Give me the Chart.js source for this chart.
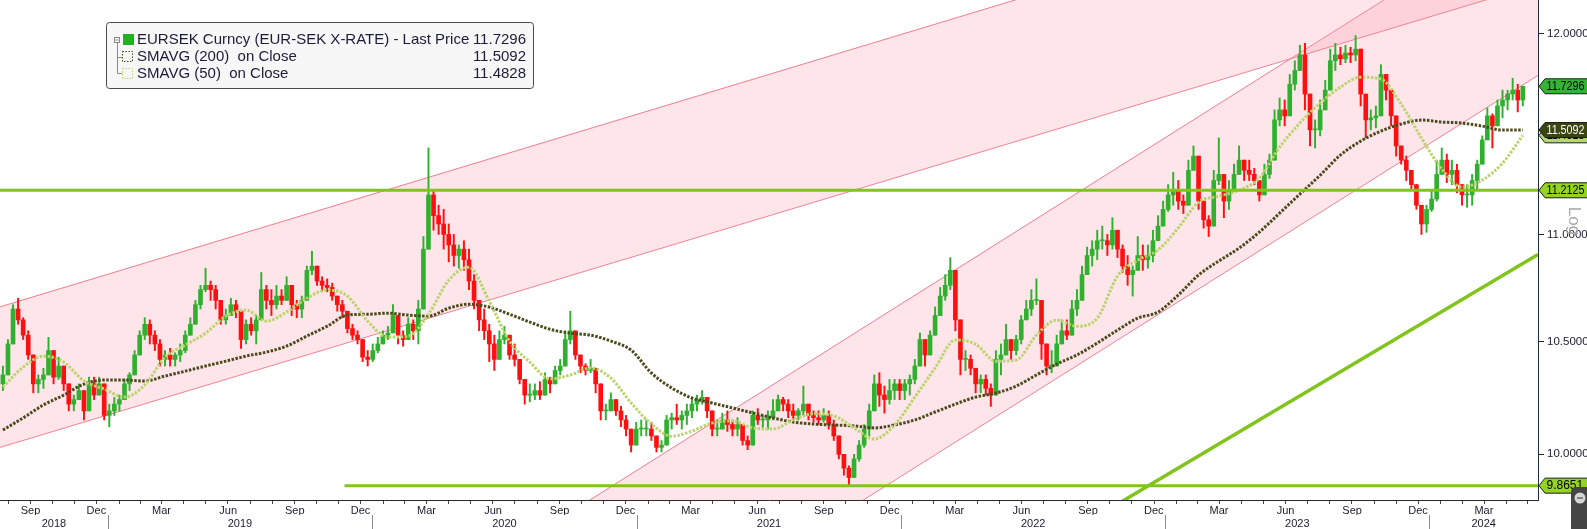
<!DOCTYPE html>
<html>
<head>
<meta charset="utf-8">
<script src="https://cdn.jsdelivr.net/npm/chart.js@4.4.1/dist/chart.umd.min.js"></script>
<style>
  html, body { margin: 0; padding: 0; background: #fff; }
  #wrap { width: 1587px; height: 529px; }
</style>
</head>
<body>
<div id="wrap"><canvas id="chart" width="1587" height="529"></canvas></div>
<script>
// weekly candles (mid-week dates)
const firstWeek = '2018-08-09';
const firstOpen = 10.31;
const weekHigh = [
  10.39,10.51,10.67,10.70,10.61,10.55,10.39,10.35,10.38,10.52,
  10.42,10.43,10.39,10.31,10.26,10.31,10.28,10.34,10.34,10.34,
  10.28,10.22,10.25,10.26,10.33,10.36,10.46,10.55,10.61,10.60,
  10.55,10.51,10.46,10.47,10.45,10.49,10.55,10.61,10.69,10.76,
  10.84,10.78,10.76,10.67,10.65,10.70,10.69,10.55,10.60,10.61,
  10.62,10.82,10.76,10.74,10.76,10.74,10.80,10.74,10.69,10.71,
  10.85,10.92,10.85,10.80,10.79,10.77,10.71,10.69,10.62,10.58,
  10.55,10.47,10.46,10.49,10.52,10.55,10.57,10.67,10.60,10.55,
  10.61,10.60,10.69,10.99,11.42,11.21,11.14,11.12,11.05,11.00,
  10.95,10.97,10.93,10.81,10.69,10.65,10.58,10.53,10.55,10.57,
  10.51,10.49,10.39,10.33,10.31,10.31,10.32,10.36,10.34,10.39,
  10.42,10.55,10.64,10.51,10.43,10.40,10.42,10.37,10.31,10.22,
  10.27,10.24,10.21,10.17,10.10,10.14,10.15,10.15,10.14,10.07,
  10.06,10.17,10.18,10.22,10.19,10.22,10.24,10.26,10.28,10.24,
  10.17,10.15,10.18,10.19,10.15,10.16,10.13,10.08,10.19,10.20,
  10.17,10.19,10.24,10.26,10.25,10.24,10.22,10.20,10.30,10.22,
  10.19,10.19,10.20,10.19,10.15,10.08,10.00,9.95,10.00,10.06,
  10.13,10.22,10.35,10.36,10.30,10.33,10.33,10.33,10.33,10.35,
  10.42,10.54,10.51,10.55,10.66,10.75,10.81,10.89,10.74,10.49,
  10.46,10.44,10.37,10.35,10.35,10.31,10.46,10.49,10.58,10.51,
  10.53,10.62,10.69,10.74,10.79,10.67,10.49,10.46,10.53,10.60,
  10.60,10.69,10.74,10.85,10.94,10.97,11.02,11.04,11.00,11.08,
  11.02,10.95,10.90,10.85,10.99,10.95,10.95,11.02,11.09,11.16,
  11.24,11.30,11.26,11.19,11.36,11.43,11.34,11.14,11.09,11.31,
  11.47,11.24,11.26,11.34,11.43,11.36,11.36,11.32,11.26,11.34,
  11.39,11.61,11.67,11.66,11.79,11.86,11.94,11.95,11.69,11.56,
  11.66,11.76,11.92,11.95,11.93,11.94,11.93,11.99,11.86,11.69,
  11.61,11.63,11.84,11.79,11.71,11.56,11.43,11.38,11.31,11.24,
  11.14,11.14,11.21,11.36,11.42,11.39,11.36,11.34,11.24,11.24,
  11.29,11.36,11.48,11.62,11.59,11.66,11.71,11.71,11.77,11.74,11.73
];
const weekLow = [
  10.28,10.35,10.49,10.58,10.51,10.42,10.27,10.27,10.29,10.35,
  10.31,10.33,10.28,10.19,10.19,10.24,10.15,10.22,10.24,10.26,
  10.15,10.12,10.17,10.19,10.24,10.28,10.35,10.44,10.51,10.49,
  10.46,10.39,10.39,10.39,10.39,10.41,10.45,10.53,10.58,10.65,
  10.73,10.69,10.65,10.58,10.58,10.62,10.61,10.47,10.49,10.53,
  10.49,10.60,10.65,10.62,10.65,10.67,10.69,10.62,10.61,10.61,
  10.69,10.81,10.76,10.73,10.73,10.69,10.64,10.61,10.54,10.51,
  10.49,10.41,10.39,10.41,10.45,10.49,10.51,10.55,10.49,10.48,
  10.52,10.51,10.49,10.68,11.00,11.02,11.00,10.93,10.87,10.85,
  10.84,10.83,10.74,10.65,10.55,10.51,10.41,10.37,10.44,10.49,
  10.42,10.39,10.31,10.22,10.23,10.24,10.24,10.27,10.27,10.33,
  10.35,10.39,10.49,10.42,10.36,10.35,10.36,10.27,10.15,10.15,
  10.19,10.17,10.12,10.08,10.01,10.06,10.08,10.08,10.06,10.01,
  10.01,10.06,10.11,10.13,10.11,10.13,10.16,10.19,10.22,10.16,
  10.08,10.08,10.11,10.10,10.08,10.08,10.04,10.02,10.04,10.13,
  10.11,10.11,10.15,10.19,10.19,10.16,10.15,10.15,10.17,10.15,
  10.14,10.13,10.14,10.11,10.06,9.98,9.91,9.8651,9.90,9.97,
  10.03,10.08,10.19,10.21,10.18,10.22,10.24,10.24,10.24,10.26,
  10.31,10.39,10.39,10.44,10.53,10.65,10.69,10.74,10.55,10.35,
  10.37,10.35,10.27,10.27,10.26,10.21,10.33,10.35,10.44,10.42,
  10.44,10.49,10.61,10.62,10.67,10.42,10.35,10.36,10.39,10.49,
  10.51,10.53,10.62,10.69,10.81,10.85,10.88,10.93,10.90,10.93,
  10.89,10.82,10.76,10.71,10.85,10.83,10.84,10.87,10.97,11.04,
  11.11,11.14,11.12,11.10,11.16,11.34,11.12,11.03,10.99,11.04,
  11.24,11.08,11.12,11.21,11.29,11.26,11.26,11.24,11.16,11.21,
  11.27,11.36,11.53,11.53,11.61,11.71,11.81,11.61,11.43,11.42,
  11.48,11.62,11.74,11.81,11.84,11.85,11.85,11.86,11.63,11.47,
  11.51,11.52,11.71,11.66,11.53,11.38,11.34,11.26,11.21,11.12,
  11.00,11.01,11.11,11.16,11.29,11.25,11.24,11.20,11.14,11.13,
  11.14,11.21,11.34,11.48,11.42,11.53,11.57,11.61,11.66,11.60,11.63
];
const weekClose = [
  10.35,10.49,10.65,10.60,10.53,10.44,10.31,10.33,10.35,10.46,
  10.34,10.39,10.31,10.22,10.24,10.28,10.19,10.31,10.26,10.31,
  10.17,10.19,10.22,10.24,10.31,10.35,10.44,10.53,10.58,10.53,
  10.49,10.42,10.44,10.42,10.44,10.46,10.53,10.58,10.67,10.74,
  10.76,10.74,10.69,10.60,10.62,10.67,10.64,10.51,10.58,10.55,
  10.60,10.74,10.69,10.67,10.71,10.69,10.76,10.67,10.65,10.69,
  10.83,10.85,10.78,10.76,10.75,10.71,10.67,10.64,10.56,10.53,
  10.51,10.43,10.42,10.46,10.49,10.53,10.54,10.62,10.53,10.51,
  10.58,10.55,10.65,10.93,11.19,11.09,11.05,11.00,10.95,10.90,
  10.93,10.88,10.78,10.69,10.60,10.55,10.49,10.42,10.51,10.53,
  10.44,10.42,10.33,10.26,10.26,10.28,10.26,10.33,10.31,10.37,
  10.39,10.51,10.55,10.44,10.39,10.37,10.38,10.31,10.19,10.19,
  10.24,10.19,10.15,10.11,10.04,10.11,10.11,10.11,10.08,10.03,
  10.04,10.15,10.16,10.15,10.17,10.19,10.22,10.24,10.25,10.19,
  10.11,10.11,10.15,10.13,10.11,10.13,10.06,10.04,10.17,10.15,
  10.15,10.16,10.19,10.24,10.22,10.19,10.17,10.19,10.22,10.17,
  10.16,10.15,10.17,10.13,10.08,10.00,9.94,9.90,9.98,10.04,
  10.11,10.19,10.31,10.26,10.24,10.28,10.31,10.28,10.31,10.33,
  10.39,10.51,10.44,10.53,10.62,10.71,10.76,10.83,10.60,10.42,
  10.42,10.38,10.31,10.33,10.29,10.26,10.42,10.44,10.51,10.46,
  10.51,10.60,10.65,10.69,10.69,10.49,10.39,10.39,10.49,10.55,
  10.53,10.65,10.69,10.81,10.90,10.93,10.97,10.97,10.95,11.02,
  10.93,10.85,10.81,10.83,10.90,10.88,10.90,10.97,11.04,11.12,
  11.19,11.21,11.16,11.14,11.31,11.38,11.16,11.07,11.04,11.26,
  11.29,11.16,11.21,11.29,11.36,11.31,11.29,11.26,11.19,11.29,
  11.36,11.56,11.61,11.58,11.74,11.81,11.89,11.69,11.51,11.51,
  11.61,11.71,11.86,11.89,11.87,11.90,11.89,11.92,11.69,11.56,
  11.57,11.58,11.79,11.71,11.58,11.43,11.36,11.31,11.24,11.14,
  11.05,11.12,11.17,11.29,11.36,11.29,11.31,11.24,11.19,11.19,
  11.26,11.34,11.46,11.58,11.53,11.63,11.66,11.69,11.71,11.66,11.7296
];

// moving averages, one reading every 4 weeks
const smaStep = 4;
const sma200 = [
  10.106,10.159,10.216,10.260,10.309,10.327,10.327,10.323,10.345,10.367,
  10.390,10.412,10.435,10.453,10.480,10.526,10.571,10.622,10.626,10.631,
  10.622,10.617,10.654,10.672,10.659,10.626,10.590,10.557,10.539,10.530,
  10.503,10.462,10.359,10.292,10.247,10.225,10.203,10.181,10.159,10.141,
  10.132,10.128,10.124,10.115,10.128,10.150,10.185,10.220,10.251,10.269,
  10.300,10.350,10.399,10.440,10.494,10.553,10.608,10.636,10.715,10.808,
  10.874,10.935,11.011,11.102,11.194,11.286,11.385,11.454,11.504,11.539,
  11.559,11.549,11.544,11.529,11.509,11.5092
];
const sma50 = [
  10.296,10.385,10.435,10.408,10.323,10.287,10.251,10.305,10.430,10.485,
  10.539,10.617,10.645,10.594,10.636,10.700,10.738,10.710,10.594,10.521,
  10.526,10.626,10.784,10.845,10.686,10.503,10.408,10.332,10.350,10.381,
  10.336,10.225,10.132,10.079,10.101,10.137,10.146,10.115,10.110,10.150,
  10.177,10.168,10.115,10.066,10.128,10.251,10.381,10.508,10.489,10.412,
  10.417,10.530,10.599,10.571,10.608,10.803,10.878,10.926,11.031,11.155,
  11.184,11.213,11.272,11.424,11.544,11.644,11.725,11.776,11.766,11.639,
  11.469,11.316,11.228,11.262,11.345,11.4828
];

// drawn studies
const channelUp1 = [['2018-08-05', 10.66], ['2024-05-30', 13.04]];
const channelLow1 = [['2018-08-05', 10.03], ['2024-05-30', 12.26]];
const channelUp2 = [['2020-06-25', 9.565], ['2024-05-30', 12.70]];
const channelLow2 = [['2020-06-25', 8.877], ['2024-05-30', 11.785]];
const trendLine = [['2022-10-02', 9.741], ['2024-05-30', 10.905]];
const supportLevel = 11.2125;
const floorLevel = 9.8651;
const floorFrom = '2019-11-24';

// axes
const axisFrom = '2018-08-05';
const axisTo = '2024-05-30';
const yMin = 9.8039, yMax = 12.1765;
const yTicks = [10, 10.5, 11, 12];
const monthNames = ['Jan','Feb','Mar','Apr','May','Jun','Jul','Aug','Sep','Oct','Nov','Dec'];
const labelledMonths = ['Mar','Jun','Sep','Dec'];
const years = [2018, 2019, 2020, 2021, 2022, 2023, 2024];
const legendNames = [
  'EURSEK Curncy (EUR-SEK X-RATE) - Last Price',
  'SMAVG (200)  on Close',
  'SMAVG (50)  on Close'
];

const FONT = '"Liberation Sans", Arial, sans-serif';
const UP = '#2fb12f', DOWN = '#ff1010';
const LIME = '#80c41c';
const SMA200_COL = '#4a4a1c', SMA50_COL = '#b9d46a';
const PINK_LINE = '#f27d8f', PINK_FILL = 'rgba(250,160,176,0.27)';

const day = s => Date.parse(s + 'T00:00:00Z') / 864e5;
const X0 = day(axisFrom), X1 = day(axisTo);
const pts = arr => arr.map(([d, v]) => ({ x: day(d), y: v }));

const weekDates = weekClose.map((_, i) => day(firstWeek) + 7 * i);
const opens = weekClose.map((c, i) => i ? weekClose[i - 1] : firstOpen);
const wicks = weekDates.map((x, i) => ({
  x, y: [Math.min(weekLow[i], opens[i], weekClose[i]), Math.max(weekHigh[i], opens[i], weekClose[i])]
}));
const bodies = weekDates.map((x, i) => ({ x, y: [opens[i], weekClose[i]] }));
const candleCol = weekClose.map((c, i) => c >= opens[i] ? UP : DOWN);
const smaPts = arr => arr.map((v, k) => ({ x: weekDates[k * smaStep], y: v }));

const monthTicks = [];
for (const yr of years) {
  for (let m = 0; m < 12; m++) {
    const v = Date.UTC(yr, m, 1) / 864e5;
    if (v > X0 && v < X1) monthTicks.push({ value: v, name: monthNames[m] });
  }
}
const yearTicks = years.map(yr => {
  const a = Math.max(day(yr + '-01-01'), X0), b = Math.min(day((yr + 1) + '-01-01'), X1);
  return { value: (a + b) / 2, name: String(yr) };
});

const lineDs = (data, color, width, extra) => Object.assign({
  type: 'line', data, borderColor: color, borderWidth: width,
  pointRadius: 0, fill: false, order: 0
}, extra || {});

const noPad = s => { s.paddingTop = 0; s.paddingBottom = 0; s.paddingLeft = 0; s.paddingRight = 0; };

function fitText(ctx, text, x, y, maxW, align) {
  const w = ctx.measureText(text).width;
  const s = Math.min(1, maxW / w);
  ctx.save();
  ctx.translate(x, y);
  ctx.scale(s, 1);
  ctx.textAlign = align || 'left';
  ctx.fillText(text, 0, 0);
  ctx.restore();
}

function tag(ctx, py, text, bg, fg) {
  ctx.beginPath();
  ctx.moveTo(1539, py);
  ctx.lineTo(1545, py - 7.5);
  ctx.lineTo(1590, py - 7.5);
  ctx.lineTo(1590, py + 7.5);
  ctx.lineTo(1545, py + 7.5);
  ctx.closePath();
  ctx.fillStyle = bg;
  ctx.fill();
  ctx.strokeStyle = '#1d1d1d';
  ctx.lineWidth = 1;
  ctx.stroke();
  ctx.fillStyle = fg;
  ctx.font = '12px ' + FONT;
  ctx.textBaseline = 'middle';
  fitText(ctx, text, 1546.5, py + 0.5, 38);
}

const overlay = {
  id: 'overlay',
  afterDraw(chart) {
    const ctx = chart.ctx;
    const xs = chart.scales.x, ys = chart.scales.y;
    ctx.save();

    // year separators under the month row
    ctx.strokeStyle = '#8c8c8c';
    ctx.lineWidth = 1;
    years.slice(1).forEach(yr => {
      const px = Math.round(xs.getPixelForValue(day(yr + '-01-01'))) + 0.5;
      ctx.beginPath();
      ctx.moveTo(px, 515);
      ctx.lineTo(px, 529);
      ctx.stroke();
    });

    // last value tags
    tag(ctx, ys.getPixelForValue(sma50[sma50.length - 1]), sma50[sma50.length - 1].toFixed(4), '#b3da6e', '#000');
    tag(ctx, ys.getPixelForValue(sma200[sma200.length - 1]), sma200[sma200.length - 1].toFixed(4), '#3a4512', '#fff');
    tag(ctx, ys.getPixelForValue(supportLevel), supportLevel.toFixed(4), '#94d224', '#000');
    tag(ctx, ys.getPixelForValue(floorLevel), floorLevel.toFixed(4), '#94d224', '#000');
    const last = weekClose[weekClose.length - 1];
    tag(ctx, ys.getPixelForValue(last), last.toFixed(4), '#36b336', '#000');

    // "Log" marker
    ctx.save();
    ctx.translate(1574, 221);
    ctx.rotate(Math.PI / 2);
    ctx.font = '17px ' + FONT;
    ctx.fillStyle = '#a8a8a8';
    ctx.textAlign = 'center';
    ctx.textBaseline = 'middle';
    ctx.fillText('Log', 0, 0);
    ctx.restore();

    // corner widget
    ctx.fillStyle = '#454545';
    ctx.beginPath();
    ctx.roundRect(1571, 487, 30, 50, 5);
    ctx.fill();
    ctx.fillStyle = '#d5d5d5';
    ctx.beginPath();
    ctx.arc(1580, 498, 5.5, 0, Math.PI * 2);
    ctx.fill();
    ctx.strokeStyle = '#333';
    ctx.beginPath();
    ctx.moveTo(1577, 498); ctx.lineTo(1583, 498);
    ctx.stroke();

    // legend box
    ctx.beginPath();
    ctx.roundRect(106.5, 22.5, 427, 66, 3);
    ctx.fillStyle = '#f7f7f7';
    ctx.fill();
    ctx.strokeStyle = '#4a4a4a';
    ctx.lineWidth = 1;
    ctx.stroke();

    ctx.strokeStyle = '#8a8a8a';
    ctx.strokeRect(114.5, 37.5, 5, 5);
    ctx.beginPath();
    ctx.moveTo(115.5, 40); ctx.lineTo(118.5, 40);
    ctx.moveTo(117.5, 43); ctx.lineTo(117.5, 73.5); ctx.lineTo(122, 73.5);
    ctx.moveTo(117.5, 57.5); ctx.lineTo(122, 57.5);
    ctx.stroke();
    ctx.fillStyle = '#1fb41f';
    ctx.fillRect(123, 34, 11, 11);
    ctx.setLineDash([1.5, 1.5]);
    ctx.strokeStyle = SMA200_COL;
    ctx.strokeRect(122.5, 51.5, 10, 10);
    ctx.strokeStyle = SMA50_COL;
    ctx.strokeRect(122.5, 68.5, 10, 10);
    ctx.setLineDash([]);

    const vals = [last, sma200[sma200.length - 1], sma50[sma50.length - 1]];
    const rows = [40, 57, 73.5];
    ctx.font = '15px ' + FONT;
    ctx.fillStyle = '#1b1b3a';
    ctx.textBaseline = 'middle';
    legendNames.forEach((name, i) => {
      ctx.textAlign = 'left';
      ctx.fillText(name, 137, rows[i]);
      ctx.textAlign = 'right';
      ctx.fillText(vals[i].toFixed(4), 526, rows[i]);
    });
    ctx.restore();
  }
};

new Chart(document.getElementById('chart'), {
  type: 'bar',
  data: {
    datasets: [
      lineDs(pts([[axisFrom, supportLevel], [axisTo, supportLevel]]), LIME, 3),
      lineDs(pts([[floorFrom, floorLevel], [axisTo, floorLevel]]), LIME, 3),
      lineDs(pts(trendLine), LIME, 3.5),
      lineDs(smaPts(sma50), SMA50_COL, 3, { borderDash: [2.5, 1.5], cubicInterpolationMode: 'monotone', order: 1 }),
      lineDs(smaPts(sma200), SMA200_COL, 3, { borderDash: [2.5, 1.5], cubicInterpolationMode: 'monotone', order: 1 }),
      { type: 'bar', data: bodies, backgroundColor: candleCol, barThickness: 4, minBarLength: 1, grouped: false, order: 2 },
      { type: 'bar', data: wicks, backgroundColor: candleCol, barThickness: 1.3, grouped: false, order: 3 },
      lineDs(pts(channelUp1), PINK_LINE, 1, { fill: '+1', backgroundColor: PINK_FILL, order: 4 }),
      lineDs(pts(channelLow1), PINK_LINE, 1, { order: 4 }),
      lineDs(pts(channelUp2), PINK_LINE, 1, { fill: '+1', backgroundColor: PINK_FILL, order: 4 }),
      lineDs(pts(channelLow2), PINK_LINE, 1, { order: 4 })
    ]
  },
  options: {
    responsive: false,
    devicePixelRatio: 1,
    animation: false,
    layout: { padding: 0 },
    plugins: { legend: { display: false }, tooltip: { enabled: false } },
    scales: {
      x: {
        type: 'linear', position: 'bottom', min: X0, max: X1, offset: false, weight: 0,
        afterBuildTicks: s => { s.ticks = monthTicks.map(t => ({ value: t.value })); },
        afterFit: s => { s.height = 15; noPad(s); },
        ticks: {
          autoSkip: false, maxRotation: 0, padding: 0, labelOffset: 11,
          color: '#1b1b2f', font: { family: FONT, size: 11 },
          callback: (v, i) => labelledMonths.includes(monthTicks[i].name) ? monthTicks[i].name : ''
        },
        grid: { drawOnChartArea: false, tickLength: 4, color: '#444' },
        border: { display: true, color: '#2a2a2a' }
      },
      xYear: {
        type: 'linear', position: 'bottom', min: X0, max: X1, offset: false, weight: 1,
        afterBuildTicks: s => { s.ticks = yearTicks.map(t => ({ value: t.value })); },
        afterFit: s => { s.height = 14; noPad(s); },
        ticks: {
          autoSkip: false, maxRotation: 0, padding: 2,
          color: '#1b1b2f', font: { family: FONT, size: 11 },
          callback: (v, i) => yearTicks[i].name
        },
        grid: { display: false, drawTicks: false, tickLength: 0 },
        border: { display: false }
      },
      y: {
        type: 'logarithmic', position: 'right', min: yMin, max: yMax, beginAtZero: false,
        afterBuildTicks: s => { s.ticks = yTicks.map(v => ({ value: v })); },
        afterFit: s => { s.width = 49; noPad(s); },
        ticks: {
          autoSkip: false, padding: 3, color: '#1b1b2f', font: { family: FONT, size: 11.5 },
          callback: v => Number(v).toFixed(4)
        },
        grid: { drawOnChartArea: false, tickLength: 6, color: '#222' },
        border: { display: true, color: '#1c2a3a' }
      }
    }
  },
  plugins: [overlay]
});
</script>
</body>
</html>
